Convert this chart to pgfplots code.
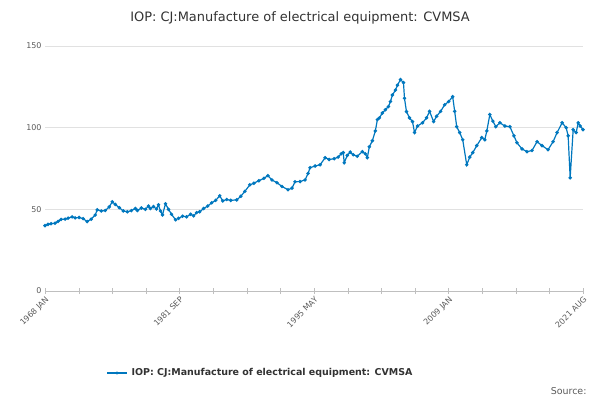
\documentclass[border=0pt]{standalone}
\usepackage{pgfplots}
\pgfplotsset{compat=1.18}
\usepackage{fontspec}
\setmainfont{DejaVu Sans}
\definecolor{ln}{RGB}{0,119,190}
\definecolor{gr}{RGB}{225,225,225}
\definecolor{tx}{RGB}{90,90,90}
\begin{document}
\begin{tikzpicture}[x=1bp,y=1bp]
\path (0,0) rectangle (600,400);
\node at (300,382) {\fontsize{13}{15}\selectfont\color[RGB]{50,50,50}IOP: CJ:Manufacture of electrical equipment: CVMSA};
\begin{axis}[at={(45bp,109bp)},anchor=south west,scale only axis,width=538bp,height=245bp,
 xmin=1968,xmax=2021.58,ymin=0,ymax=150,
 axis x line*=bottom, axis y line*=left,
 y axis line style={draw=none}, ytick style={draw=none},
 ytick={0,50,100,150}, ymajorgrids, grid style={gr},
 yticklabel style={font=\fontsize{8}{9}\selectfont,text=tx},
 /pgf/number format/assume math mode=true,
 xtick={1968,1971.349,1974.698,1978.047,1981.396,1984.745,1988.094,1991.443,1994.792,1998.141,2001.490,2004.839,2008.188,2011.537,2014.886,2018.235,2021.58},
 xticklabels={1968 JAN,,,,1981 SEP,,,,1995 MAY,,,,2009 JAN,,,,2021 AUG},
 x axis line style={gray!50}, 
 xtick style={gray!50,yshift=-3bp}, major tick length=6bp,
 xticklabel style={rotate=45,anchor=north east,font=\fontsize{8}{9}\selectfont,text=tx},
 clip=false]
\addplot[ln, line width=1.2pt, mark=*, mark size=1.1pt] coordinates {
(1968.0,40)(1968.3,40.8)(1968.6,41.2)(1969.0,41.5)(1969.3,42.6)(1969.6,43.8)(1970.0,44)(1970.3,44.6)(1970.7,45.4)(1971.0,44.8)(1971.4,45)(1971.8,44.3)(1972.2,42.5)(1972.6,44)(1973.0,46.5)(1973.2,49.7)(1973.6,49)(1974.0,49.3)(1974.4,51.5)(1974.7,54.6)(1975.0,53)(1975.4,51)(1975.8,49)(1976.2,48.5)(1976.6,49.2)(1977.0,50.5)(1977.2,49.3)(1977.6,50.8)(1978.0,50)(1978.3,52)(1978.5,50.5)(1978.8,51.7)(1979.1,50.2)(1979.3,52.8)(1979.5,49)(1979.7,46.6)(1980.0,53.4)(1980.3,50)(1980.6,47)(1981.0,43.6)(1981.3,44.5)(1981.7,45.8)(1982.1,45.4)(1982.5,47)(1982.8,46)(1983.1,48)(1983.4,48.5)(1983.8,50.5)(1984.2,52)(1984.6,54)(1985.0,55.5)(1985.4,58.3)(1985.7,55.2)(1986.1,56)(1986.5,55.5)(1987.1,55.8)(1987.5,58)(1987.9,61)(1988.4,65)(1988.8,66)(1989.3,67.5)(1989.8,69)(1990.2,70.6)(1990.6,68)(1991.1,66.3)(1991.6,64)(1992.2,62)(1992.6,63)(1992.9,66.9)(1993.4,67)(1993.9,68)(1994.2,72)(1994.4,75.5)(1994.9,76.5)(1995.4,77.3)(1995.9,81.6)(1996.3,80.5)(1996.8,81)(1997.2,82)(1997.5,84)(1997.7,84.7)(1997.8,78.5)(1998.1,83)(1998.4,85)(1998.7,83.4)(1999.1,82.5)(1999.6,85.3)(1999.9,84)(2000.1,81.6)(2000.3,88.3)(2000.6,92)(2000.9,98)(2001.1,104.9)(2001.3,106)(2001.6,109)(2001.9,111)(2002.2,112.9)(2002.4,116)(2002.6,120)(2002.9,123)(2003.1,126)(2003.4,129.4)(2003.7,127.6)(2003.8,118)(2004.0,109.8)(2004.3,106)(2004.6,103.7)(2004.8,97)(2005.1,101)(2005.6,103)(2006.0,106)(2006.3,110)(2006.7,103.7)(2007.0,107)(2007.4,110)(2007.8,114)(2008.2,116)(2008.6,119)(2008.8,110)(2009.0,100.6)(2009.3,97)(2009.6,92.6)(2010.0,77.3)(2010.3,82)(2010.6,84.7)(2011.0,89)(2011.5,93.9)(2011.8,92.6)(2012.0,98)(2012.3,108)(2012.6,104)(2012.9,100.6)(2013.3,103)(2013.8,101)(2014.3,100.6)(2014.7,95)(2015.0,90.8)(2015.5,87)(2016.0,85.3)(2016.5,86)(2017.0,91.4)(2017.5,89)(2018.1,86.5)(2018.6,91.4)(2019.0,97)(2019.5,103)(2019.9,100)(2020.1,95)(2020.3,69.3)(2020.6,98.8)(2020.9,97)(2021.1,103)(2021.3,101)(2021.58,98.8)
};
\end{axis}
\draw[ln, line width=1.2pt] (107,27) -- (127,27);
\fill[ln] (117,27) circle (1.6bp);
\node[anchor=west,font=\fontsize{9.5}{11}\selectfont\bfseries,text={rgb,255:red,50;green,50;blue,50}] at (128,27) {IOP: CJ:Manufacture of electrical equipment: CVMSA};
\node[anchor=east,font=\fontsize{9.5}{11}\selectfont,text=tx] at (590,9) {Source:};
\end{tikzpicture}
\end{document}
